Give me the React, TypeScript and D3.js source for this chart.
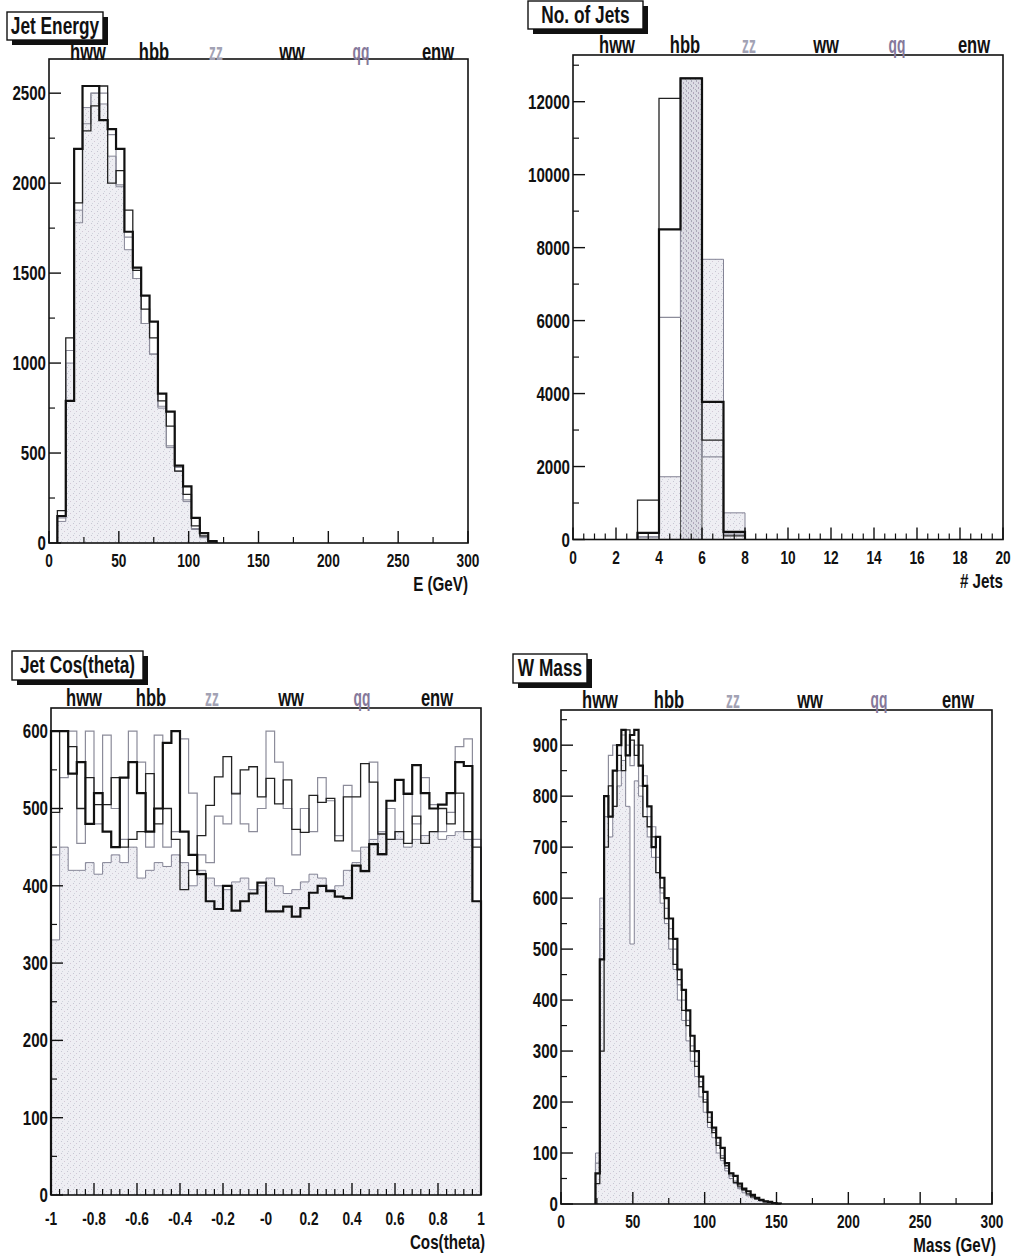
import React from 'react';
import * as d3 from 'd3';

// legend labels drawn above every frame
const legendNames = ['hww', 'hbb', 'zz', 'ww', 'qq', 'enw'];
const legendColors = ['#111', '#111', '#a2a2b4', '#111', '#85789a', '#111'];

// Jet Energy, 6 GeV bins starting at 6 GeV
const energyStart = 6;
const energyWidth = 6;
const energyZz = [120, 1000, 1850, 2420, 2500, 2440, 2150, 1980, 1630, 1470, 1220, 1050, 750, 530, 400, 230, 75, 35, 8];
const energyHww = [150, 790, 2190, 2540, 2540, 2350, 2300, 2190, 1730, 1530, 1375, 1230, 830, 730, 430, 315, 140, 55, 10];
const energyHbb = [180, 1140, 1890, 2290, 2430, 2540, 2000, 2070, 1850, 1515, 1300, 1140, 790, 650, 400, 270, 95, 40, 6];
const energyQq = [140, 1070, 1780, 2330, 2500, 2500, 2270, 1990, 1700, 1470, 1220, 1050, 760, 540, 420, 240, 80, 30, 5];

// No. of Jets, unit bins starting at 3
const jetsStart = 3;
const jetsWidth = 1;
const jetsZz = [70, 1720, 12640, 7680, 731];
const jetsWw = [0, 0, 12640, 0, 0];
const jetsHww = [180, 8500, 12640, 3775, 210];
const jetsHbb = [1079, 12090, 12640, 2725, 100];
const jetsQq = [73, 6090, 12640, 2267, 150];

// Jet Cos(theta), 50 bins from -1 to 1
const cosStart = -1;
const cosWidth = 0.04;
const cosZz = [
  330, 450, 420, 420, 430, 415, 430, 440, 430, 450,
  410, 420, 430, 425, 440, 430, 400, 420, 410, 400,
  395, 405, 410, 395, 400, 410, 400, 390, 395, 405,
  415, 410, 395, 400, 420, 430, 450, 460, 470, 460,
  470, 450, 460, 465, 470, 460, 465, 470, 460, 380,
];
const cosHww = [
  600, 600, 545, 560, 480, 520, 470, 450, 540, 560,
  520, 470, 500, 585, 600, 470, 440, 415, 380, 370,
  400, 368, 380, 390, 404, 367, 367, 373, 360, 371,
  391, 400, 393, 386, 384, 426, 419, 454, 441, 510,
  537, 519, 556, 520, 500, 505, 520, 560, 555, 380,
];
const cosHbb = [
  495, 600, 580, 500, 540, 505, 505, 540, 450, 460,
  470, 545, 480, 500, 460, 395, 420, 465, 504, 541,
  567, 519, 550, 554, 515, 539, 506, 537, 473, 469,
  517, 508, 513, 458, 515, 515, 558, 534, 467, 460,
  470, 455, 490, 455, 470, 500, 480, 520, 470, 450,
];
const cosQq = [
  440, 540, 600, 455, 600, 480, 595, 500, 460, 600,
  560, 450, 595, 450, 470, 590, 520, 440, 430, 490,
  480, 520, 480, 470, 500, 600, 560, 500, 440, 500,
  470, 540, 510, 465, 530, 445, 420, 560, 440, 500,
  460, 520, 480, 540, 505, 470, 495, 580, 590, 460,
];

// W Mass, 3 GeV bins starting at 24 GeV
const massStart = 24;
const massWidth = 3;
const massZz = [
  100, 600, 760, 720, 780, 820, 870, 780, 510, 830,
  800, 760, 720, 680, 650, 590, 550, 500, 460, 400,
  360, 320, 280, 250, 210, 180, 150, 130, 100, 85,
  65, 50, 40, 30, 22, 16, 12, 9, 6, 4, 3, 2, 1,
];
const massHww = [
  60, 480, 800, 760, 850, 900, 930, 880, 920, 930,
  860, 820, 780, 700, 720, 640, 600, 560, 520, 460,
  420, 380, 330, 300, 250, 220, 180, 150, 130, 110,
  80, 60, 55, 40, 30, 25, 18, 12, 8, 5, 4, 2, 1,
];
const massHbb = [
  40, 300, 700, 820, 780, 880, 850, 930, 910, 880,
  900, 760, 740, 720, 650, 620, 560, 520, 470, 440,
  380, 350, 300, 270, 230, 200, 160, 140, 115, 90,
  75, 60, 42, 35, 28, 20, 14, 10, 7, 5, 3, 2, 1,
];
const massQq = [
  80, 540, 760, 880, 900, 850, 920, 900, 860, 900,
  820, 840, 760, 740, 680, 610, 580, 540, 500, 430,
  400, 360, 310, 280, 240, 205, 170, 145, 120, 95,
  70, 55, 45, 32, 26, 18, 15, 9, 6, 4, 3, 1, 1,
];

// tick labels
const energyTicks = [0, 50, 100, 150, 200, 250, 300];
const jetsTicks = [0, 2, 4, 6, 8, 10, 12, 14, 16, 18, 20];
const cosTicks = [-1, -0.8, -0.6, -0.4, -0.2, 0, 0.2, 0.4, 0.6, 0.8, 1];
const cosTickLabels = ['-1', '-0.8', '-0.6', '-0.4', '-0.2', '-0', '0.2', '0.4', '0.6', '0.8', '1'];
const massTicks = [0, 50, 100, 150, 200, 250, 300];

const FONT = '"Liberation Sans", Arial, Helvetica, sans-serif';

const styles: any = {
  fill: { fill: 'url(#stipple)', stroke: '#77778a', sw: 0.9 },
  dark: { fill: 'url(#stippleDark)', stroke: '#555', sw: 1 },
  thick: { fill: 'none', stroke: '#111', sw: 2.2 },
  thin: { fill: 'none', stroke: '#222', sw: 1.3 },
  gray: { fill: 'none', stroke: '#8c8c9a', sw: 1.2 },
};

const Txt = ({ x, y, size, anchor = 'middle', sx = 0.72, color = '#111', children }: any) => (
  <text
    transform={`translate(${x},${y}) scale(${sx},1)`}
    fontSize={size}
    textAnchor={anchor}
    fill={color}
    fontWeight="bold"
    fontFamily={FONT}
  >
    {children}
  </text>
);

const histPath = (vals: number[], start: number, width: number, x: any, y: any) => {
  const pts: [number, number][] = [[x(start), y(0)]];
  vals.forEach((v, i) => {
    pts.push([x(start + i * width), y(v)]);
    pts.push([x(start + (i + 1) * width), y(v)]);
  });
  pts.push([x(start + vals.length * width), y(0)]);
  return d3.line()(pts) as string;
};

const panels = [
  {
    title: 'Jet Energy', box: [7, 12, 96, 28], titleY: 34,
    frame: { l: 49, r: 468, t: 59, b: 543 },
    xDomain: [0, 300], yDomain: [0, 2690],
    xMajor: energyTicks, xMinor: d3.range(25, 300, 50),
    xLabels: energyTicks.map(String), xLabelY: 567,
    yMajor: [0, 500, 1000, 1500, 2000, 2500], yMinor: [250, 750, 1250, 1750, 2250],
    xTitle: 'E (GeV)', xTitlePos: [468, 591],
    legendXs: [88, 154, 216, 292, 361, 438], legendY: 60,
    series: [
      { v: energyZz, s: energyStart, w: energyWidth, k: 'fill' },
      { v: energyQq, s: energyStart, w: energyWidth, k: 'gray' },
      { v: energyHbb, s: energyStart, w: energyWidth, k: 'thin' },
      { v: energyHww, s: energyStart, w: energyWidth, k: 'thick' },
    ],
  },
  {
    title: 'No. of Jets', box: [528, 1, 115, 28], titleY: 23,
    frame: { l: 573, r: 1003, t: 55, b: 539.5 },
    xDomain: [0, 20], yDomain: [0, 13280],
    xMajor: jetsTicks, xMinor: d3.range(0.5, 20, 0.5).filter((d) => d % 2 !== 0),
    xLabels: jetsTicks.map(String), xLabelY: 564,
    yMajor: [0, 2000, 4000, 6000, 8000, 10000, 12000], yMinor: [1000, 3000, 5000, 7000, 9000, 11000, 13000],
    xTitle: '# Jets', xTitlePos: [1003, 588],
    legendXs: [617, 685, 749, 826, 897, 974], legendY: 53,
    series: [
      { v: jetsZz, s: jetsStart, w: jetsWidth, k: 'fill' },
      { v: jetsWw, s: jetsStart, w: jetsWidth, k: 'dark' },
      { v: jetsQq, s: jetsStart, w: jetsWidth, k: 'gray' },
      { v: jetsHbb, s: jetsStart, w: jetsWidth, k: 'thin' },
      { v: jetsHww, s: jetsStart, w: jetsWidth, k: 'thick' },
    ],
  },
  {
    title: 'Jet Cos(theta)', box: [12, 651, 131, 29], titleY: 673,
    frame: { l: 51, r: 481, t: 708, b: 1195 },
    xDomain: [-1, 1], yDomain: [0, 630],
    xMajor: cosTicks, xMinor: d3.range(0, 51).map((i) => -1 + i * 0.04).filter((_, i) => i % 5 !== 0),
    xLabels: cosTickLabels, xLabelY: 1225,
    yMajor: [0, 100, 200, 300, 400, 500, 600], yMinor: [50, 150, 250, 350, 450, 550],
    xTitle: 'Cos(theta)', xTitlePos: [485, 1249],
    legendXs: [84, 151, 212, 291, 362, 437], legendY: 706,
    series: [
      { v: cosZz, s: cosStart, w: cosWidth, k: 'fill' },
      { v: cosQq, s: cosStart, w: cosWidth, k: 'gray' },
      { v: cosHbb, s: cosStart, w: cosWidth, k: 'thin' },
      { v: cosHww, s: cosStart, w: cosWidth, k: 'thick' },
    ],
  },
  {
    title: 'W Mass', box: [513, 654, 74, 29], titleY: 676,
    frame: { l: 561, r: 992, t: 710, b: 1204 },
    xDomain: [0, 300], yDomain: [0, 969],
    xMajor: massTicks, xMinor: d3.range(25, 300, 50),
    xLabels: massTicks.map(String), xLabelY: 1228,
    yMajor: [0, 100, 200, 300, 400, 500, 600, 700, 800, 900], yMinor: [50, 150, 250, 350, 450, 550, 650, 750, 850, 950],
    xTitle: 'Mass (GeV)', xTitlePos: [996, 1252],
    legendXs: [600, 669, 733, 810, 879, 958], legendY: 708,
    series: [
      { v: massZz, s: massStart, w: massWidth, k: 'fill' },
      { v: massQq, s: massStart, w: massWidth, k: 'gray' },
      { v: massHbb, s: massStart, w: massWidth, k: 'thin' },
      { v: massHww, s: massStart, w: massWidth, k: 'thick' },
    ],
  },
];

const Panel = ({ p }: any) => {
  const { l, r, t, b } = p.frame;
  const x = d3.scaleLinear().domain(p.xDomain).range([l, r]);
  const y = d3.scaleLinear().domain(p.yDomain).range([b, t]);
  const [bx, by, bw, bh] = p.box;
  return (
    <g>
      {/* histograms */}
      {p.series.map((s: any, i: number) => {
        const st = styles[s.k];
        return (
          <path key={i} d={histPath(s.v, s.s, s.w, x, y)} fill={st.fill} stroke={st.stroke}
            strokeWidth={st.sw} strokeLinejoin="miter" />
        );
      })}
      {/* frame */}
      <rect x={l} y={t} width={r - l} height={b - t} fill="none" stroke="#111" strokeWidth={1.6} />
      {/* x ticks */}
      {p.xMajor.map((d: number, i: number) => (
        <line key={'xM' + i} x1={x(d)} x2={x(d)} y1={b} y2={b - 12} stroke="#111" strokeWidth={1.4} />
      ))}
      {p.xMinor.map((d: number, i: number) => (
        <line key={'xm' + i} x1={x(d)} x2={x(d)} y1={b} y2={b - 6} stroke="#111" strokeWidth={1.2} />
      ))}
      {p.xMajor.map((d: number, i: number) => (
        <Txt key={'xl' + i} x={x(d)} y={p.xLabelY} size={19}>{p.xLabels[i]}</Txt>
      ))}
      {/* y ticks */}
      {p.yMajor.map((d: number, i: number) => (
        <line key={'yM' + i} x1={l} x2={l + 12} y1={y(d)} y2={y(d)} stroke="#111" strokeWidth={1.4} />
      ))}
      {p.yMinor.map((d: number, i: number) => (
        <line key={'ym' + i} x1={l} x2={l + 6} y1={y(d)} y2={y(d)} stroke="#111" strokeWidth={1.2} />
      ))}
      {p.yMajor.map((d: number, i: number) => (
        <Txt key={'yl' + i} x={l - 3} y={y(d) + 7} size={21} anchor="end">{String(d)}</Txt>
      ))}
      {/* axis title */}
      <Txt x={p.xTitlePos[0]} y={p.xTitlePos[1]} size={20} anchor="end" sx={0.76}>{p.xTitle}</Txt>
      {/* legend labels */}
      {legendNames.map((n, i) => (
        <Txt key={n} x={p.legendXs[i]} y={p.legendY} size={23} color={legendColors[i]}
          sx={i === 2 || i === 4 ? 0.6 : 0.72}>{n}</Txt>
      ))}
      {/* title box */}
      <rect x={bx + 5} y={by + 5} width={bw} height={bh} fill="#111" />
      <rect x={bx} y={by} width={bw} height={bh} fill="#fff" stroke="#111" strokeWidth={1.4} />
      <Txt x={bx + bw / 2} y={p.titleY} size={24}>{p.title}</Txt>
    </g>
  );
};

export default function App() {
  return (
    <svg width={1013} height={1258} style={{ position: 'absolute', left: 0, top: 0, background: '#fff' }}>
      <defs>
        <pattern id="stipple" width={6} height={6} patternUnits="userSpaceOnUse">
          <rect width={6} height={6} fill="#eeeef3" />
          <rect x={1} y={1} width={1} height={1} fill="#c6c6d2" />
          <rect x={4} y={3} width={1} height={1} fill="#d2c8d6" />
          <rect x={2} y={5} width={1} height={1} fill="#cfd4dc" />
        </pattern>
        <pattern id="stippleDark" width={5} height={5} patternUnits="userSpaceOnUse">
          <rect width={5} height={5} fill="#dcdce4" />
          <rect x={1} y={0} width={1} height={2} fill="#a8a8b6" />
          <rect x={3} y={2} width={1} height={2} fill="#b2a8bc" />
          <rect x={0} y={4} width={1} height={1} fill="#aab0bc" />
        </pattern>
      </defs>
      {panels.map((p, i) => (
        <Panel key={i} p={p} />
      ))}
    </svg>
  );
}
